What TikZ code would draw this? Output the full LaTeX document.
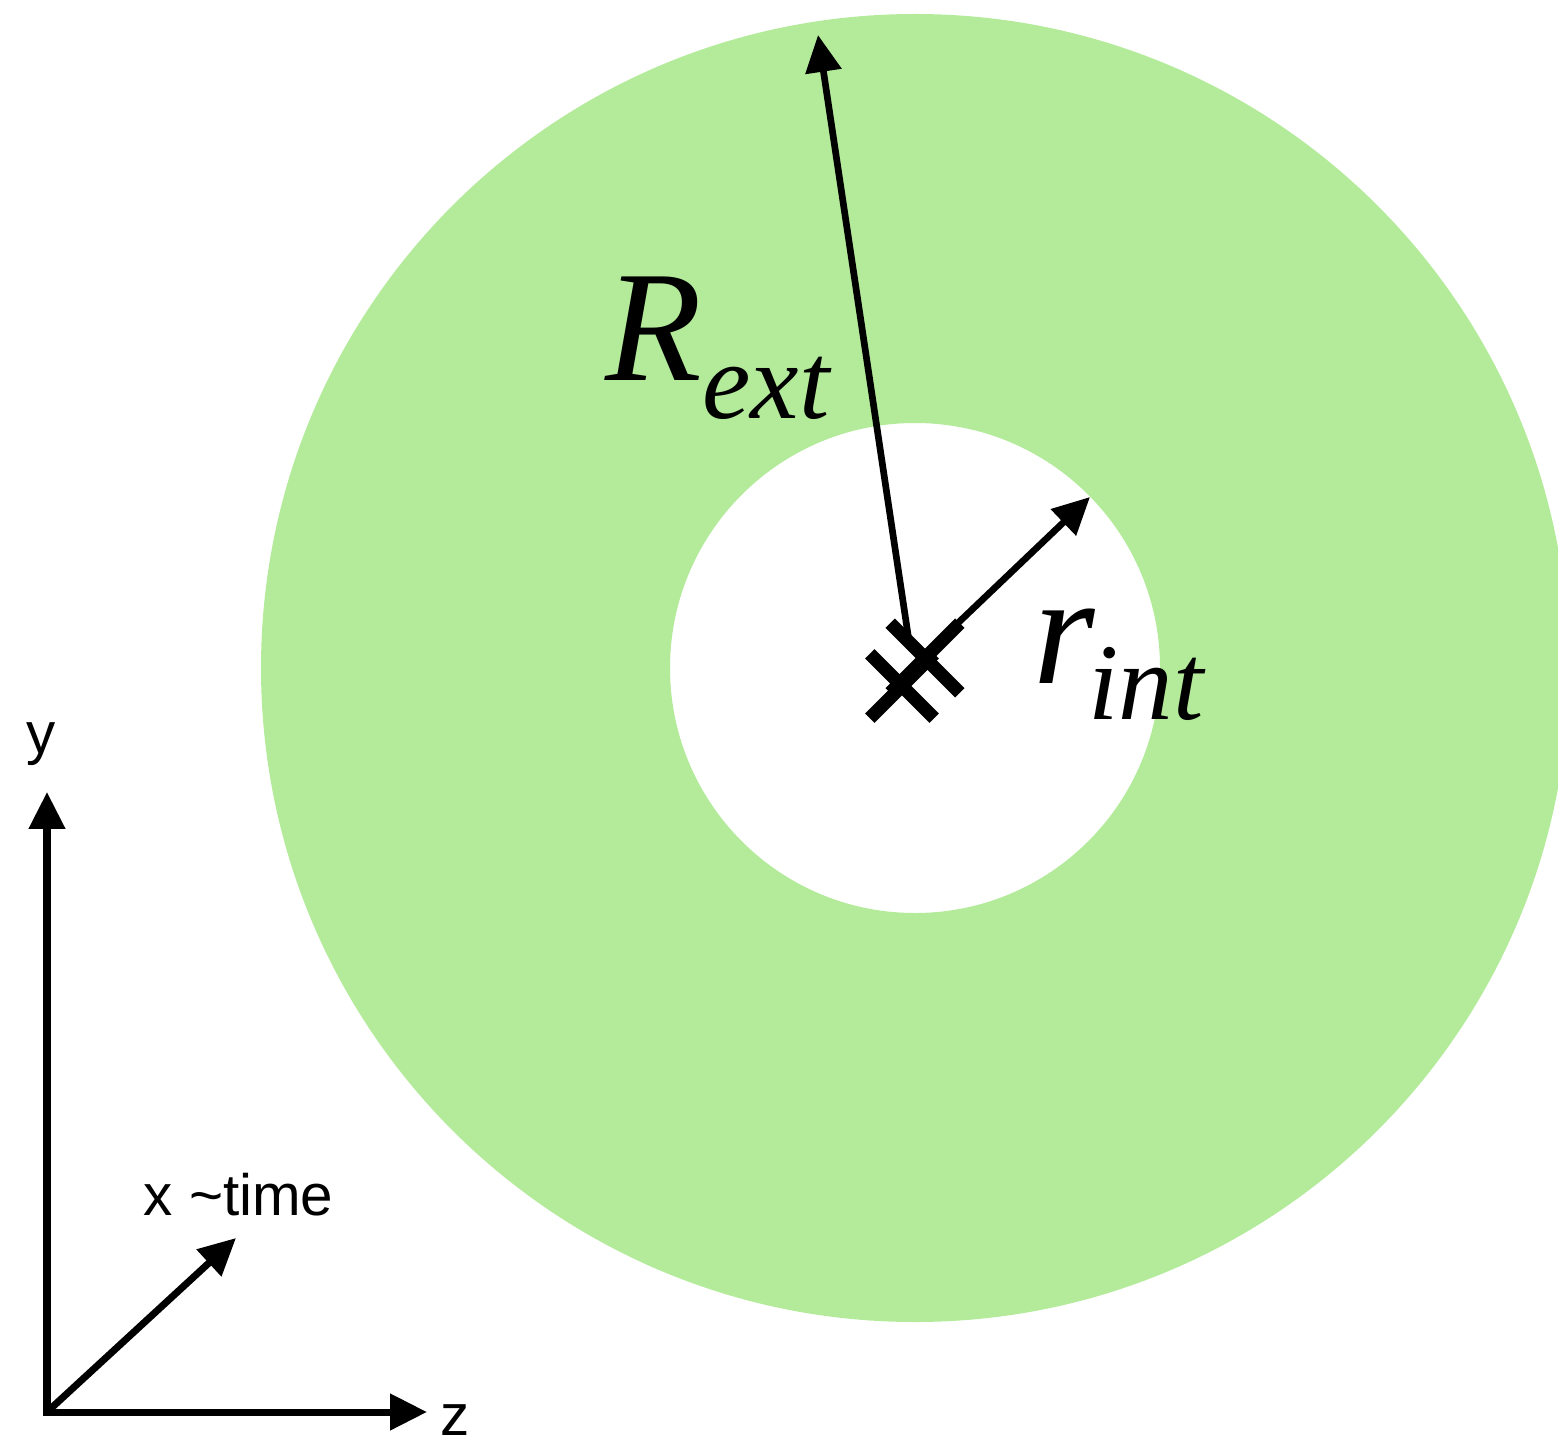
\documentclass[tikz,border=0pt]{standalone}
\usepackage{fontspec}
\setmainfont{Liberation Sans}
\newfontfamily\radfont{Liberation Serif}
\usetikzlibrary{arrows.meta, shapes.misc}
\definecolor{ringgreen}{RGB}{179,235,155}
\newcommand{\radsub}[3]{#1\raisebox{-#3}{\fontsize{31}{34}\selectfont #2}}

\begin{document}
\begin{tikzpicture}[x=0.01cm, y=-0.01cm,
  ring/.style={fill=ringgreen, even odd rule},
  radarr/.style={-{Triangle[length=10.5pt, width=10pt]}, line width=1.9pt},
  axarr/.style={-{Triangle[length=10.5pt, width=10pt]}, line width=2pt},
  crossmk/.style={cross out, draw, line width=3.8pt, inner sep=0pt},
  axlbl/.style={font=\fontsize{16.6}{19}\selectfont, inner sep=0pt},
  radlbl/.style={font=\radfont\itshape\fontsize{45}{50}\selectfont, inner sep=0pt, anchor=base west}
]
  \useasboundingbox (0,0) rectangle (1558,1446);
  % ===== ring =====
  \coordinate (O) at (915,668);
  \begin{scope}
    \clip (0,0) rectangle (1558,1446);
    \fill[ring] (O) circle (654) (O) circle (245);
  \end{scope}
  % ===== radii =====
  \coordinate (Rbase) at (910,648);
  \coordinate (Rtip)  at (818,35);
  \coordinate (rbase) at (915,664);
  \coordinate (rtip)  at (1090,497);
  \draw[radarr] (Rbase) -- (Rtip);
  \draw[radarr] (rbase) -- (rtip);
  \node[crossmk, minimum size=16pt] (c1) at (925,658) {};
  \node[crossmk, minimum size=14.5pt] (c2) at (902,686) {};
  \node[radlbl] (Rext) at (605,380) {\radsub{R}{ext}{11pt}};
  \node[radlbl] (rint) at (1033,683) {\radsub{r}{\kern-2pt int}{10.5pt}};
  % ===== axes =====
  \coordinate (A0) at (47,1412);
  \coordinate (Ay) at (47,792);
  \coordinate (Az) at (427,1412);
  \coordinate (Ax) at (236,1238);
  \draw[axarr] (47,1416) -- (Ay);
  \draw[axarr] (A0) -- (Az);
  \draw[axarr] (A0) -- (Ax);
  \node[axlbl] (ly) at (41,744) {y};
  \node[axlbl] (lz) at (455,1420) {z};
  \node[axlbl, anchor=base west] (lx) at (143,1215) {x \textasciitilde time};
\end{tikzpicture}
\end{document}
